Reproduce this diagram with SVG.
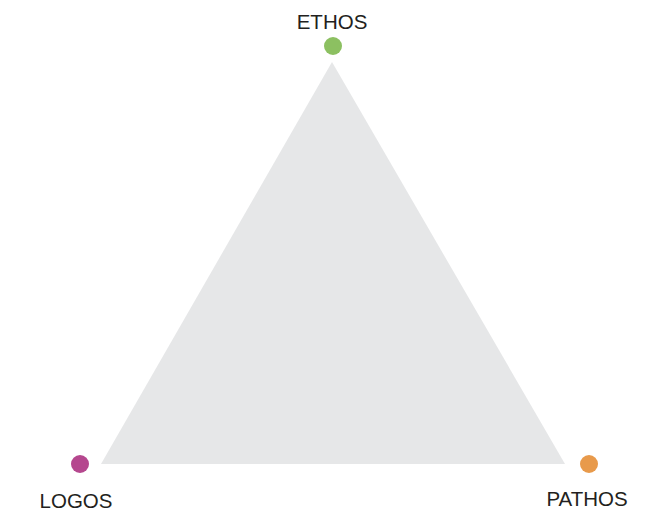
<svg xmlns="http://www.w3.org/2000/svg" width="664" height="513" viewBox="0 0 664 513">
  <style>
    .label { font-family: "Liberation Sans", Arial, sans-serif; font-size: 20.5px; fill: #231f20; text-anchor: middle; }
  </style>
  <rect width="664" height="513" fill="#ffffff"/>
  <g id="triangle">
    <polygon points="332,62 101,464 565,464" fill="#e6e7e8"/>
  </g>
  <g id="ethos">
    <circle cx="333" cy="46" r="9" fill="#8cc061"/>
    <text class="label" x="332" y="29">ETHOS</text>
  </g>
  <g id="logos">
    <circle cx="80" cy="464" r="9" fill="#b5478e"/>
    <text class="label" x="76" y="508">LOGOS</text>
  </g>
  <g id="pathos">
    <circle cx="589" cy="464" r="9" fill="#e89a4b"/>
    <text class="label" x="587" y="506">PATHOS</text>
  </g>
</svg>
